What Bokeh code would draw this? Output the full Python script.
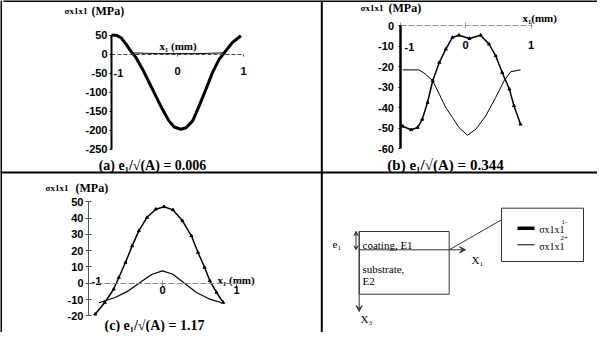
from bokeh.plotting import figure
from bokeh.models import Range1d, LinearAxis, FixedTicker, Arrow, VeeHead
from bokeh.core.properties import value
from bokeh.embed import file_html
from bokeh.resources import INLINE

W, H = 597, 332

# ---------------- data ----------------
# panel (a)  e1/sqrt(A) = 0.006
a1_x = [-1.0, -0.92, -0.85, -0.78, -0.71, -0.63, -0.53, -0.43, -0.33, -0.23, -0.13, -0.05,
        0.05, 0.13, 0.23, 0.33, 0.43, 0.53, 0.63, 0.73, 0.83, 0.96]
a1_s = [50, 49, 42, 26, 8, -9, -40, -75, -110, -145, -176, -192,
        -198, -194, -176, -136, -93, -49, -14, 8, 30, 48]
a2_x = [-0.68, -0.5, -0.3, -0.1, 0.1, 0.3, 0.5, 0.72]
a2_s = [3, 2, 1, 1, 1, 1, 2, 3]

# panel (b)  e1/sqrt(A) = 0.344
b1_x = [-0.96, -0.83, -0.73, -0.66, -0.58, -0.50, -0.40, -0.30, -0.20, -0.10, 0.06, 0.23,
        0.36, 0.46, 0.56, 0.67, 0.74, 0.84]
b1_s = [-49, -50.7, -49.6, -45.6, -37.4, -26.8, -17.9, -11.4, -5.7, -4.6, -6.2, -4.6,
        -9, -14.6, -22.8, -30.9, -39, -48]
b2_x = [-0.96, -0.84, -0.71, -0.61, -0.50, -0.40, -0.30, -0.20, -0.10, 0.03, 0.16, 0.31,
        0.46, 0.59, 0.69, 0.84]
b2_s = [-21.5, -21.5, -21.5, -23.6, -26.8, -33.4, -39.9, -44.7, -49.6, -53.4, -50.4, -43.9,
        -35, -26.8, -22.4, -21.5]

# panel (c)  e1/sqrt(A) = 1.17
c1_x = [-0.91, -0.78, -0.66, -0.59, -0.50, -0.41, -0.32, -0.21, -0.09, 0.02, 0.14, 0.27,
        0.39, 0.48, 0.57, 0.64, 0.73, 0.82]
c1_s = [-19, -11.8, -3.7, 3.5, 12.7, 22.9, 32.1, 40.3, 45.4, 46.9, 45, 38.3,
        29.1, 18.8, 9.6, 1.5, -5.7, -11.8]
c2_x = [-0.86, -0.64, -0.46, -0.27, -0.14, 0.0, 0.14, 0.27, 0.46, 0.64, 0.82]
c2_s = [-12, -8.8, -4.7, 1.5, 5.5, 7.6, 5.5, 0.9, -5.7, -9.8, -12.3]

# ticks
a_yticks = [50, 0, -50, -100, -150, -200, -250]
b_yticks = [0, -10, -20, -30, -40, -50, -60]
c_yticks = [50, 40, 30, 20, 10, 0, -10, -20]
ab_xticks = [-1, 0, 1]
c_xticks = [-1, 0, 1]

captions = ["(a) e\u2081/\u221a(A) = 0.006", "(b) e\u2081/\u221a(A) = 0.344", "(c) e\u2081/\u221a(A) = 1.17"]
sigma = "\u03c3x1x1"

# ---------------- layout (pixel anchors in canvas) ----------------
# panel: (px of x=0, px per unit x, px of y=0 from top, px per unit y)
anchors = {"a": (177, 66, 53.5, 0.38), "b": (465, 65.5, 25.3, 2.05), "c": (162, 74, 282.7, 1.63)}

p = figure(width=W, height=H, x_range=Range1d(0, W), y_range=Range1d(H, 0),
           x_axis_type=None, y_axis_type=None, toolbar_location=None,
           output_backend="svg", min_border=0, outline_line_color=None,
           background_fill_color="white", border_fill_color="white")

exr, eyr = {}, {}
for k, (x0, kx, y0, ky) in anchors.items():
    exr["x" + k] = Range1d(-x0 / kx, (W - x0) / kx)
    eyr["y" + k] = Range1d((y0 - H) / ky, y0 / ky)
p.extra_x_ranges = exr
p.extra_y_ranges = eyr

# table lines
tbl_x0 = [0.5, 3, 0, 321.3]
tbl_y0 = [0, 0.5, 172, 0]
tbl_x1 = [0.5, W, W, 321.3]
tbl_y1 = [H, 0.5, 172, H]
p.segment(tbl_x0, tbl_y0, tbl_x1, tbl_y1, line_color="black", line_width=2)


def style_axis(ax, lw, color, tin, tout, standoff, dash=None):
    ax.axis_line_width = lw
    ax.axis_line_color = color
    if dash:
        ax.axis_line_dash = dash
    ax.major_tick_line_color = color
    ax.major_tick_in = tin
    ax.major_tick_out = tout
    ax.minor_tick_in = 0
    ax.minor_tick_out = 0
    ax.major_label_standoff = standoff
    ax.major_label_text_font = "Liberation Sans"
    ax.major_label_text_font_size = "11px"
    ax.major_label_text_font_style = "bold"
    ax.major_label_text_color = "black"


def labels(ticks, hide_first_x=False):
    d = {t: str(t) for t in ticks}
    if hide_first_x:
        d[-1] = ""
    return d


def add_axes(k, yticks, xticks, xbounds, ycfg, xcfg):
    ya = LinearAxis(x_range_name="x" + k, y_range_name="y" + k, fixed_location=-1,
                    bounds=(min(yticks), max(yticks)),
                    ticker=FixedTicker(ticks=yticks, minor_ticks=[]),
                    major_label_overrides=labels(yticks))
    style_axis(ya, *ycfg)
    p.add_layout(ya, "left")
    xa = LinearAxis(x_range_name="x" + k, y_range_name="y" + k, fixed_location=0,
                    bounds=xbounds, ticker=FixedTicker(ticks=xticks, minor_ticks=[]),
                    major_label_overrides=labels(xticks, hide_first_x=True))
    style_axis(xa, *xcfg)
    p.add_layout(xa, "below")


add_axes("a", a_yticks, ab_xticks, (-1, 1),
         (2, "black", 0, 2, 2), (1, "#444444", 0, 2, 11, "4 2"))
add_axes("b", b_yticks, ab_xticks, (-1, 1),
         (2.5, "black", 0, 2, 4), (1, "#999999", 3, 3, 12, "6 2"))
add_axes("c", c_yticks, c_xticks, (-1, 1.08),
         (1, "#555555", 3, 3, 2), (1, "#888888", 3, 3, 0, "6 2"))

# curves
p.line(a1_x, a1_s, x_range_name="xa", y_range_name="ya", line_color="black", line_width=3)
p.line(a2_x, a2_s, x_range_name="xa", y_range_name="ya", line_color="black", line_width=1)

p.line(b1_x, b1_s, x_range_name="xb", y_range_name="yb", line_color="black", line_width=1.5)
p.scatter(b1_x, b1_s, x_range_name="xb", y_range_name="yb", marker="triangle", size=3,
          color="black")
p.line(b2_x, b2_s, x_range_name="xb", y_range_name="yb", line_color="black", line_width=1)

p.line(c1_x, c1_s, x_range_name="xc", y_range_name="yc", line_color="black", line_width=1.5)
p.scatter(c1_x, c1_s, x_range_name="xc", y_range_name="yc", marker="triangle", size=3,
          color="black")
p.line(c2_x, c2_s, x_range_name="xc", y_range_name="yc", line_color="black", line_width=1.2)


def txt(xs, ys, texts, size, font="Liberation Serif", style="normal", align="left",
        baseline="middle"):
    p.text(x=xs, y=ys, text=texts, text_font=value(font), text_font_size=value(size),
           text_font_style=style, text_align=align, text_baseline=baseline,
           text_color="black")


# titles (sigma part and unit part)
txt([64, 360, 45], [10, 7, 187], [sigma] * 3, "9px", style="bold")
txt([91, 388, 75], [10, 7, 187], ["(MPa)"] * 3, "12px", style="bold")
# axis labels
txt([159, 522, 217], [45, 17, 279], ["x\u2081 (mm)", "x\u2081(mm)", "x\u2081 (mm)"], "11px",
    style="bold")
# "-1" tick labels placed beside the vertical axes
txt([113, 404, 91], [72, 46, 280], ["-1", "-1", "-1"], "11px", font="Liberation Sans",
    style="bold")
# captions
txt([152], [165], [captions[0]], "14px", style="bold", align="center")
txt([445], [164], [captions[1]], "15px", style="bold", align="center")
txt([154], [325], [captions[2]], "14px", style="bold", align="center")

# ---------------- panel (d): schematic ----------------
d_box = dict(left=358.7, right=448.7, top=231, bottom=293.7)
d_leg = dict(left=501, right=583, top=207.7, bottom=261)
p.quad(left=[d_box["left"], d_leg["left"]], right=[d_box["right"], d_leg["right"]],
       top=[d_box["top"], d_leg["top"]], bottom=[d_box["bottom"], d_leg["bottom"]],
       fill_color=None, line_color="#333333", line_width=1)
p.line([448.7, 501], [249.3, 219.3], line_color="#333333", line_width=1)
p.line([517, 534], [227.7, 227.7], line_color="black", line_width=3.5)
p.line([517, 534], [244.3, 244.3], line_color="black", line_width=1)

p.add_layout(Arrow(x_start=358.7, y_start=249.3, x_end=465, y_end=249.3, line_width=1,
                   line_color="#333333", end=VeeHead(size=6, line_color="#333333",
                                                      fill_color="#333333")))
p.add_layout(Arrow(x_start=358.7, y_start=231, x_end=358.7, y_end=311, line_width=1,
                   line_color="#333333", end=VeeHead(size=6, line_color="#333333",
                                                      fill_color="#333333")))
p.add_layout(Arrow(x_start=355.5, y_start=231, x_end=355.5, y_end=249.3, line_width=1,
                   line_color="#333333",
                   start=VeeHead(size=4, line_color="#333333", fill_color="#333333"),
                   end=VeeHead(size=4, line_color="#333333", fill_color="#333333")))

txt([332, 362, 362, 362, 471, 360], [243, 244.5, 268.7, 280, 259, 318],
    ["e\u2081", "coating, E1", "substrate,", "E2", "X\u2081", "X\u2083"], "11px")
txt([538.7, 538.7], [229, 246], [sigma, sigma], "10px")
txt([561, 560], [221, 237], ["1-", "2+"], "7px")

open("out.html", "w").write(file_html(p, INLINE))
